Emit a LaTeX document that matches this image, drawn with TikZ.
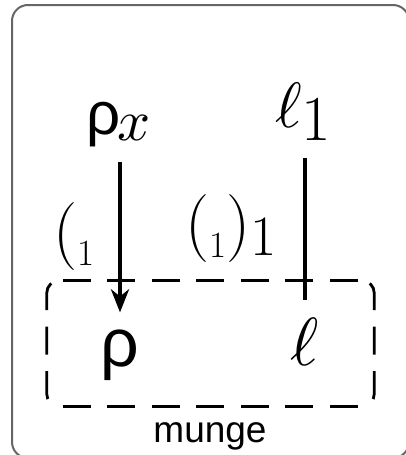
\documentclass[tikz,border=0pt]{standalone}
\usepackage{fontspec}
\usepackage{unicode-math}
\setmathfont{Latin Modern Math}
\newfontfamily\sansrho{Liberation Sans}
\usetikzlibrary{arrows.meta}
\begin{document}
\begin{tikzpicture}[x=1pt,y=-1pt,
  txt/.style={inner sep=0pt, outer sep=0pt, anchor=base west},
  wire/.style={line width=4pt},
  grpline/.style={line width=2.8pt, dash pattern=on 28pt off 16.5pt},
  frame/.style={black!60, line width=2pt, rounded corners=16pt}]
\useasboundingbox (0,0) rectangle (406,455);
\clip (0,0) rectangle (406,455);
\draw[frame] (12,5) rectangle (409,458);
% nodes
\node[txt] (rx) at (86,134) {\fontsize{60}{60}\selectfont\sansrho ρ\hspace{-3pt}\raisebox{-6pt}{\fontsize{58}{58}\selectfont$x$}};
\node[txt] (l1) at (275,127) {\fontsize{64}{64}\selectfont$\ell$\hspace{-1pt}\raisebox{-13pt}{1}};
\node[txt, anchor=base] (rho) at (120,366) {\fontsize{68}{68}\selectfont\sansrho ρ};
\node[txt, anchor=base] (ell) at (305,365) {\fontsize{68}{68}\selectfont$\ell$};
\node[txt] (la) at (53,253) {\fontsize{68}{68}\selectfont(\raisebox{-12pt}{\fontsize{37}{37}\selectfont 1}};
\node[txt] (lb) at (185,245) {\fontsize{68}{68}\selectfont(\raisebox{-12pt}{\fontsize{37}{37}\selectfont 1})\raisebox{-10pt}{\fontsize{57}{57}\selectfont 1}};
% group box
\node[inner sep=0pt, minimum width=327pt, minimum height=125pt] (grp) at (210.5,343.5) {};
\draw[grpline, dash phase=40.5pt] ([xshift=12pt]grp.north west) -- ([xshift=-12pt]grp.north east);
\draw[grpline, dash phase=40.5pt] ([xshift=12pt]grp.south west) -- ([xshift=-12pt]grp.south east);
\draw[grpline, dash phase=36.5pt, rounded corners=12pt] ([xshift=12pt]grp.north west) -- (grp.north west) -- (grp.south west) -- ([xshift=12pt]grp.south west);
\draw[grpline, dash phase=36.5pt, rounded corners=12pt] ([xshift=-12pt]grp.north east) -- (grp.north east) -- (grp.south east) -- ([xshift=-12pt]grp.south east);
\node[txt, anchor=base] (lbl) at (210,442) {\fontsize{37}{37}\selectfont\sansrho munge};
% connectors
\draw[wire, shorten <=16pt, shorten >=17pt, -{Stealth[length=23pt,width=18pt,inset=7pt]}] (rho.north |- rx.south) -- (rho.north);
\draw[wire, shorten <=18pt, shorten >=17pt] (ell.north |- l1.south) -- (ell.north);
\end{tikzpicture}
\end{document}
